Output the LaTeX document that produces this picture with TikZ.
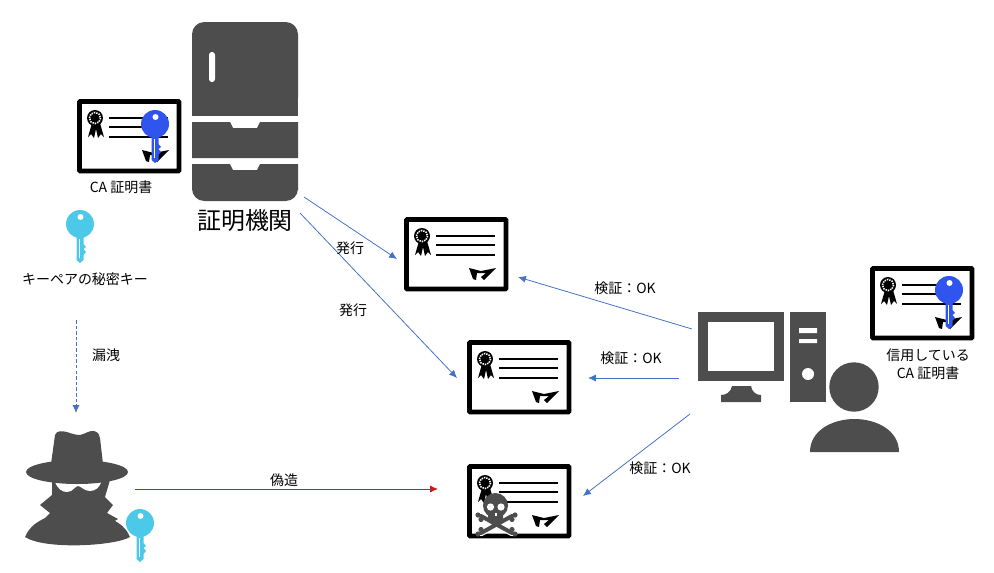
\documentclass[tikz,border=0pt]{standalone}
\usepackage{fontspec}
\setmainfont{Noto Sans CJK JP}
\usetikzlibrary{arrows.meta}
\definecolor{darkicon}{HTML}{4D4D4D}
\definecolor{keycyan}{HTML}{4CC8E8}
\definecolor{keyblue}{HTML}{2F55EE}
\definecolor{flowblue}{HTML}{4472C4}
\definecolor{flowred}{HTML}{D01818}
\tikzset{
  flow/.style={flowblue,line width=0.45pt,-{Latex[length=4.5pt,width=4pt]}},
  label/.style={font=\fontsize{7.95}{10}\selectfont,inner sep=0pt,align=center},
  certpic/.pic={
    \draw[black,line width=2.8pt,rounded corners=0.5pt] (2.5,2.5) rectangle (102,72);
    % rosette
    \fill[black] (15,24)--(11,38)--(14,35)--(17,39)--(19,30)--(21,39)--(24,35)--(27,38)--(23,24)--cycle;
    \fill[black] (18,19) circle(8);
    \draw[white,line width=0.9pt,dash pattern=on 0.8pt off 0.6pt] (18,19) circle(5.6);
    % text lines
    \draw[black,line width=0.7pt] (32,19)--(91,19) (32,28)--(91,28) (32,38)--(91,38);
    % signature
    \fill[black] (65,51)--(77,54)--(92,51)--(80,63)--(77,60)--(82,56)--(73,56)--(72,63)--(69,62)--cycle;
  },
  keypic/.pic={
    \fill[#1] (0,0) circle(14);
    \fill[#1] (-3.5,8)--(3.5,8)--(3.5,20)--(6,23)--(3.5,25)--(6,28)--(3.5,31)--(3.5,36)--(0,39)--(-3.5,36)--cycle;
    \draw[white,line width=0.4pt] (-0.5,15)--(-0.5,34);
    \fill[white] (0.5,-7) circle(3);
  }
}
\begin{document}
\begin{tikzpicture}[x=0.02cm,y=-0.02cm]
  \useasboundingbox (0,0) rectangle (994,572);
  % cabinet
  \fill[darkicon,rounded corners=7pt] (192,110)--(192,22)--(298,22)--(298,110)--cycle;
  \fill[darkicon] (192,90) rectangle (298,116);
  \fill[darkicon] (192,122)--(230,122)--(233,128)--(257,128)--(260,122)--(298,122)--(298,158)--(192,158)--cycle;
  \fill[darkicon] (192,164)--(230,164)--(233,170)--(257,170)--(260,164)--(298,164)--(298,190)--(192,190)--cycle;
  \fill[darkicon,rounded corners=7pt] (192,175) rectangle (298,201);
  \fill[white,rounded corners=1.6pt] (209,52) rectangle (215,82);
  \node[label,font=\fontsize{13.6}{16}\selectfont] (caname) at (245,220){証明機関};
  % CA certificate
  \pic at (77,99) {certpic};
  \pic at (155,124) {keypic=keyblue};
  \node[label] (calabel) at (121,187){CA 証明書};
  % private key
  \pic at (80,224) {keypic=keycyan};
  \node[label] (keylabel) at (85,279){キーペアの秘密キー};
  % issued certificates
  \pic at (404,217) {certpic};
  \pic at (467,340) {certpic};
  \pic at (467,464) {certpic};
  % skull on the forged one
  \draw[white,line width=3.6pt,line cap=round] (481,516)--(512,533) (512,516)--(481,533);
  \draw[darkicon,line width=2.3pt,line cap=round] (481,516)--(512,533) (512,516)--(481,533);
  \fill[darkicon] (478,515) circle(2.6) (481,519.5) circle(2.6) (515,515) circle(2.6) (512,519.5) circle(2.6);
  \fill[darkicon] (478,534) circle(2.6) (481,529.5) circle(2.6) (515,534) circle(2.6) (512,529.5) circle(2.6);
  \fill[darkicon] (495.5,505.5) circle(12.5);
  \fill[darkicon,rounded corners=1pt] (488,510) rectangle (503,522);
  \fill[white] (490.5,507) circle(3.6) (501,507) circle(3.6);
  \fill[white] (494.7,513) rectangle (497,516);
  % spy
  \fill[darkicon] (25,537) .. controls (30,525) and (40,520) .. (50,516)--(103,516) .. controls (115,520) and (125,525) .. (130,537) .. controls (115,546) and (45,550) .. (25,537)--cycle;
  \fill[darkicon] (52,480)--(52,495)--(40,505)--(50,513)--(42,521)--(60,530)--(100,530)--(118,519)--(107,513)--(113,505)--(105,497)--(110,480)--cycle;
  \fill[white] (55,482) .. controls (58,489) and (62,492) .. (67,492) .. controls (73,492) and (75,486) .. (78,486) .. controls (81,486) and (84,491) .. (90,491) .. controls (96,491) and (100,487) .. (102,480)--cycle;
  \fill[darkicon] (77,472) ellipse(51 and 12);
  \fill[darkicon] (51,464)--(55,435) .. controls (57,430) and (62,431) .. (67,432) .. controls (72,434) and (77,435) .. (80,435) .. controls (85,434) and (90,430) .. (94,431) .. controls (98,432) and (100,435) .. (100,438)--(103,464)--cycle;
  \pic at (140,523) {keypic=keycyan};
  % computer
  \fill[darkicon] (698,312) rectangle (784,381);
  \fill[white] (708,322) rectangle (774,371);
  \fill[darkicon] (732,386)--(751,386) .. controls (752,392) and (756,395) .. (761,395)--(761,402)--(721,402)--(721,395) .. controls (726,395) and (731,392) .. (732,386)--cycle;
  \fill[darkicon] (790,312) rectangle (826,402);
  \fill[white] (799,328) rectangle (817,333) (799,339) rectangle (817,343);
  \fill[white] (808,374) circle(6);
  % user
  \fill[darkicon] (854,387) circle(24.7);
  \fill[darkicon] (810,452) .. controls (810,430) and (833,419) .. (854.5,419) .. controls (876,419) and (899,430) .. (899,452)--cycle;
  % trusted certificate
  \pic at (870,266) {certpic};
  \pic at (949,290) {keypic=keyblue};
  \node[label] (trustlabel) at (928,364){信用している\\CA 証明書};
  % connector ends
  \coordinate (issuefrom) at (304,197);
  \coordinate (issueto) at (397,259);
  \coordinate (issuefromb) at (300,213);
  \coordinate (issuetob) at (457,378);
  \coordinate (checkfrom) at (692,329);
  \coordinate (checkto) at (518,277);
  \coordinate (checkfromb) at (679,378);
  \coordinate (checktob) at (588,378);
  \coordinate (checkfromc) at (690,414);
  \coordinate (checktoc) at (583,496);
  \coordinate (leakfrom) at (76,320);
  \coordinate (leakto) at (76,413);
  \coordinate (forgefrom) at (135,489);
  \coordinate (forgeto) at (438,489);
  \draw[flow] (issuefrom)--(issueto);
  \draw[flow] (issuefromb)--(issuetob);
  \draw[flow] (checkfrom)--(checkto);
  \draw[flow] (checkfromb)--(checktob);
  \draw[flow] (checkfromc)--(checktoc);
  \draw[flow,dash pattern=on 2pt off 1.2pt] (leakfrom)--(leakto);
  \draw[flow,flowred] (forgefrom)--(forgeto);
  \node[label] (issuelabel) at (350,248){発行};
  \node[label] (issuelabelb) at (353,310){発行};
  \node[label] (checklabel) at (625,288){検証：OK};
  \node[label] (checklabelb) at (631,358){検証：OK};
  \node[label] (checklabelc) at (660,468){検証：OK};
  \node[label] (leaklabel) at (106,355){漏洩};
  \node[label] (forgelabel) at (284,480){偽造};
\end{tikzpicture}
\end{document}
